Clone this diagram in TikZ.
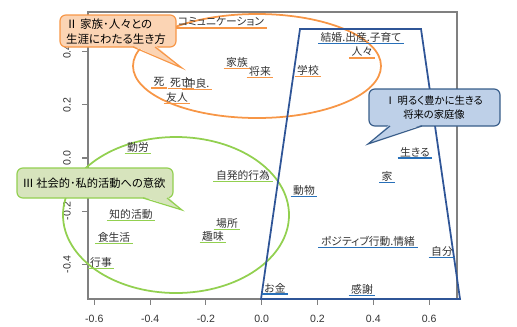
\documentclass[tikz,border=0pt]{standalone}
\usepackage{fontspec}
\newfontfamily\jplabel{Noto Sans CJK JP}[RawFeature={+palt}]
\newfontfamily\numfont{Liberation Sans}
\usepackage{tikz}

\definecolor{orline}{RGB}{247,150,70}
\definecolor{orfill}{RGB}{251,212,180}
\definecolor{grline}{RGB}{146,208,80}
\definecolor{grfill}{RGB}{215,228,189}
\definecolor{blline}{RGB}{40,112,185}
\definecolor{bltrap}{RGB}{47,85,151}
\definecolor{blfill}{RGB}{190,208,232}
\definecolor{blborder}{RGB}{56,93,138}
\definecolor{framegray}{RGB}{128,128,128}
\definecolor{labelgray}{RGB}{50,50,50}

\begin{document}
\begin{tikzpicture}[x=0.03cm, y=-0.03cm,
  word/.style={font=\fontsize{9.2}{10}\selectfont\jplabel, text=labelgray, inner xsep=2pt, inner ysep=1pt},
  oline/.style={orline, line width=1.3pt},
  gline/.style={grline, line width=1.3pt},
  bline/.style={blline, line width=1.3pt},
  frameline/.style={framegray, line width=0.9pt},
  numlab/.style={font=\fontsize{9}{10}\selectfont\numfont, text=black!80, inner sep=0pt},
  boxtext/.style={font=\fontsize{9.8}{13}\selectfont\jplabel, inner sep=0pt},
  group/.style={line width=1.5pt}]
\useasboundingbox (0,0) rectangle (517,326);

% plot frame and ticks
\draw[frameline] (88,12) rectangle (457,299);
\draw[frameline] (94.3,299) -- (94.3,305);
\draw[frameline] (150.1,299) -- (150.1,305);
\draw[frameline] (205.9,299) -- (205.9,305);
\draw[frameline] (261.7,299) -- (261.7,305);
\draw[frameline] (317.5,299) -- (317.5,305);
\draw[frameline] (373.3,299) -- (373.3,305);
\draw[frameline] (429.1,299) -- (429.1,305);
\node[numlab] (xm6) at (94.3,319) {-0.6};
\node[numlab] (xm4) at (150.1,319) {-0.4};
\node[numlab] (xm2) at (205.9,319) {-0.2};
\node[numlab] (x0) at (261.7,319) {0.0};
\node[numlab] (x2) at (317.5,319) {0.2};
\node[numlab] (x4) at (373.3,319) {0.4};
\node[numlab] (x6) at (429.1,319) {0.6};
\draw[frameline] (82,51.6) -- (88,51.6);
\draw[frameline] (82,104.8) -- (88,104.8);
\draw[frameline] (82,158) -- (88,158);
\draw[frameline] (82,211.2) -- (88,211.2);
\draw[frameline] (82,264.4) -- (88,264.4);
\node[numlab, rotate=90] (y4) at (67,51.6) {0.4};
\node[numlab, rotate=90] (y2) at (67,104.8) {0.2};
\node[numlab, rotate=90] (y0) at (67,158) {0.0};
\node[numlab, rotate=90] (ym2) at (67,211.2) {-0.2};
\node[numlab, rotate=90] (ym4) at (67,264.4) {-0.4};

% groups
\draw[group, orline] (257,66) ellipse (124 and 52);
\draw[group, grline] (176,215) ellipse (113 and 78);
\draw[group, bltrap] (300,29) -- (421,29) -- (460,299) -- (261,299) -- cycle;

% words of group II
\node[word] (comm) at (221,22) {コミュニケーション};
\draw[oline] (comm.south west) -- (comm.south east);
\node[word] (kazoku) at (237,62) {家族};
\draw[oline] (kazoku.south west) -- (kazoku.south east);
\node[word] (shourai) at (260,71) {将来};
\draw[oline] (shourai.south west) -- (shourai.south east);
\node[word] (gakkou) at (308,70) {学校};
\draw[oline] (gakkou.south west) -- (gakkou.south east);
\node[word] (hitobito) at (362,52) {人々};
\draw[oline] (hitobito.south west) -- (hitobito.south east);
\node[word] (shi) at (159,82) {死};
\draw[oline] (shi.south west) -- (shi.south east);
\node[word] (shibou) at (181,82) {死亡};
\draw[oline] (shibou.south west) -- (shibou.south east);
\node[word] (nakayoshi) at (197,83) {仲良.};
\draw[oline] (nakayoshi.south west) -- (nakayoshi.south east);
\node[word] (yuujin) at (177,97) {友人};
\draw[oline] (yuujin.south west) -- (yuujin.south east);

% words of group III
\node[word] (kinrou) at (138,147) {勤労};
\draw[gline] (kinrou.south west) -- (kinrou.south east);
\node[word] (jihatsu) at (243,175) {自発的行為};
\draw[gline] (jihatsu.south west) -- (jihatsu.south east);
\node[word] (chiteki) at (131,214) {知的活動};
\draw[gline] (chiteki.south west) -- (chiteki.south east);
\node[word] (basho) at (227,223) {場所};
\draw[gline] (basho.south west) -- (basho.south east);
\node[word] (shumi) at (213,236) {趣味};
\draw[gline] (shumi.south west) -- (shumi.south east);
\node[word] (shoku) at (114,237) {食生活};
\draw[gline] (shoku.south west) -- (shoku.south east);
\node[word] (gyouji) at (101,262) {行事};
\draw[gline] (gyouji.south west) -- (gyouji.south east);

% words of group I
\node[word] (kekkon) at (361,37) {結婚.出産.子育て};
\draw[bline] (kekkon.south west) -- (kekkon.south east);
\node[word] (ikiru) at (415,152) {生きる};
\draw[bline] (ikiru.south west) -- (ikiru.south east);
\node[word] (ie) at (387,176) {家};
\draw[bline] (ie.south west) -- (ie.south east);
\node[word] (doubutsu) at (304,190) {動物};
\draw[bline] (doubutsu.south west) -- (doubutsu.south east);
\node[word] (positive) at (368,241) {ポジティブ行動.情緒};
\draw[bline] (positive.south west) -- (positive.south east);
\node[word] (jibun) at (442,251) {自分};
\draw[bline] (jibun.south west) -- (jibun.south east);
\node[word] (okane) at (275,288) {お金};
\draw[bline] (okane.south west) -- (okane.south east);
\node[word] (kansha) at (362,289) {感謝};
\draw[bline] (kansha.south west) -- (kansha.south east);

% callout II
\filldraw[draw=orline, fill=orfill, line width=1pt, rounded corners=5pt] (60,15) rectangle (176,47);
\coordinate (tipII) at (182,68);
\fill[orfill] (132.5,45.5) -- (tipII) -- (155.5,45.5) -- cycle;
\draw[orline, line width=1pt] (133,47) -- (tipII) -- (155,47);
\node[boxtext, align=left] (callII) at (116,32) {Ⅱ 家族･人々との\\生涯にわたる生き方};

% callout I
\filldraw[draw=blborder, fill=blfill, line width=1pt, rounded corners=5pt] (369,89) rectangle (500,126);
\coordinate (tipI) at (368,144);
\fill[blfill] (389.5,124.5) -- (tipI) -- (422.5,124.5) -- cycle;
\draw[blborder, line width=1pt] (390,126) -- (tipI) -- (422,126);
\node[boxtext, align=center, font=\fontsize{8.8}{12}\selectfont\jplabel] (callI) at (434,108) {Ⅰ 明るく豊かに生きる\\将来の家庭像};

% callout III
\filldraw[draw=grline, fill=grfill, line width=1pt, rounded corners=5pt] (17,168) rectangle (173,198);
\coordinate (tipIII) at (182,210);
\fill[grfill] (142.5,196.5) -- (tipIII) -- (167.5,196.5) -- cycle;
\draw[grline, line width=1pt] (143,198) -- (tipIII) -- (167,198);
\node[boxtext, font=\fontsize{9.6}{12}\selectfont\jplabel] (callIII) at (94,183) {Ⅲ 社会的･私的活動への意欲};
\end{tikzpicture}
\end{document}
